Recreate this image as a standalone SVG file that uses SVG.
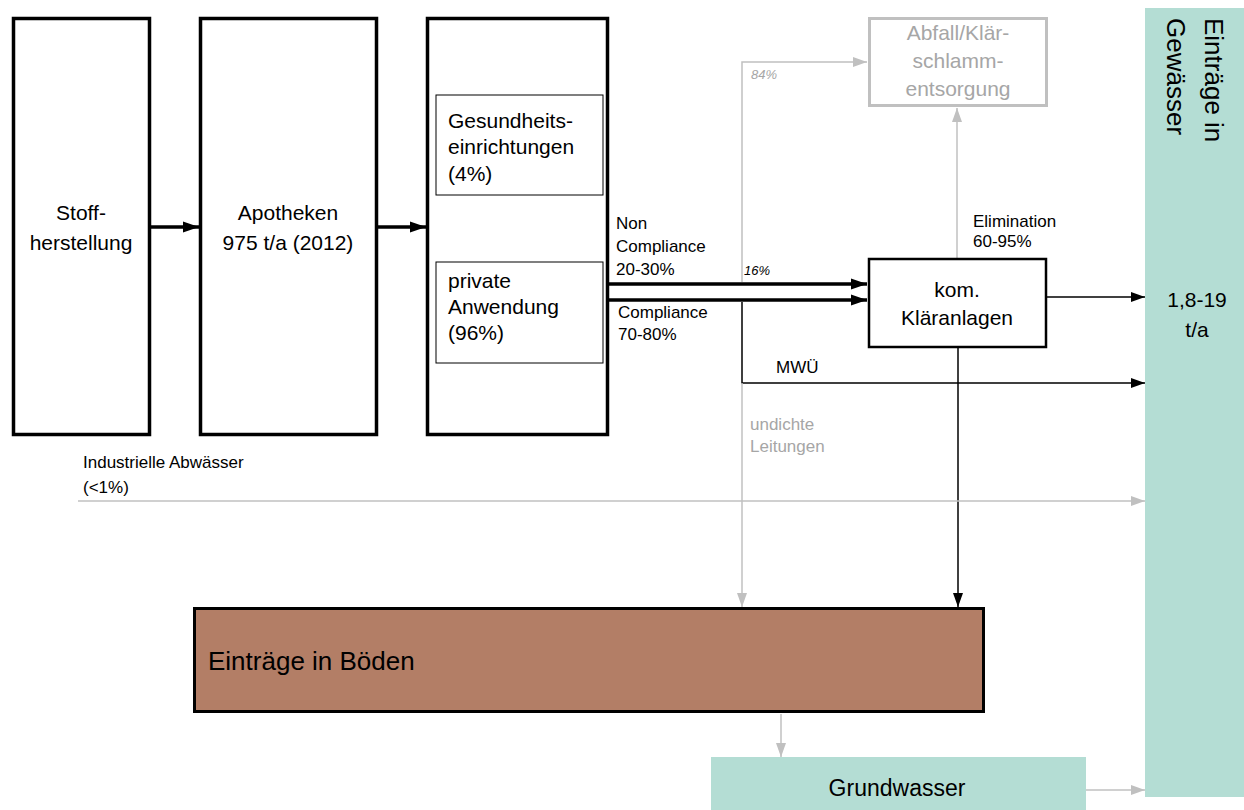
<svg xmlns="http://www.w3.org/2000/svg" width="1244" height="810" viewBox="0 0 1244 810">
<defs>
<style>
text{font-family:"Liberation Sans",Arial,sans-serif;fill:#000}
.big{font-size:21px}
.lbl{font-size:17px}
.gray{fill:#a6a6a6}
.it{font-style:italic;font-size:13px}
.box{fill:#fff;stroke:#000;stroke-width:3.5}
.inner{fill:#fff;stroke:#000;stroke-width:1}
.c-black{fill:none;stroke:#000;stroke-width:1.5}
.c-gray{fill:none;stroke:#c0c0c0;stroke-width:1.5}
.c-thick{fill:none;stroke:#000;stroke-width:3.5}
</style>
<marker id="ab" markerUnits="userSpaceOnUse" markerWidth="16" markerHeight="12" refX="14" refY="6" orient="auto"><path d="M0,1 L14,6 L0,11 z" fill="#000"/></marker>
<marker id="ag" markerUnits="userSpaceOnUse" markerWidth="16" markerHeight="12" refX="14" refY="6" orient="auto"><path d="M0,1 L14,6 L0,11 z" fill="#c0c0c0"/></marker>
<marker id="abt" markerUnits="userSpaceOnUse" markerWidth="18" markerHeight="14" refX="16" refY="7" orient="auto"><path d="M0,1.5 L16,7 L0,12.5 z" fill="#000"/></marker>
</defs>

<g id="connectors">
<line x1="151" y1="227" x2="199" y2="227" class="c-thick" stroke-width="3" marker-end="url(#abt)"/>
<line x1="378" y1="227" x2="426" y2="227" class="c-thick" stroke-width="3" marker-end="url(#abt)"/>
<line x1="609" y1="284" x2="867" y2="284" class="c-thick" marker-end="url(#abt)"/>
<line x1="609" y1="300" x2="867" y2="300" class="c-thick" marker-end="url(#abt)"/>
<path d="M742 282 V62 H867" class="c-gray" marker-end="url(#ag)"/>
<path d="M742 302 V383 H1145" class="c-black" stroke="#333" marker-end="url(#ab)"/>
<path d="M742 383 V607" class="c-gray" marker-end="url(#ag)"/>
<path d="M958 348 V607" class="c-black" marker-end="url(#ab)"/>
<path d="M957 258 V108" class="c-gray" marker-end="url(#ag)"/>
<path d="M1047 297 H1145" class="c-black" stroke-width="2.5" marker-end="url(#ab)"/>
<path d="M78 501 H1145" class="c-gray" marker-end="url(#ag)"/>
<path d="M781 714 V757" class="c-gray" marker-end="url(#ag)"/>
<path d="M1086 790 H1145" class="c-gray" marker-end="url(#ag)"/>
</g>

<g id="stoffherstellung">
<rect x="13.5" y="18.5" width="136" height="416" class="box"/>
<text class="big" x="81" y="220" text-anchor="middle">Stoff-</text>
<text class="big" x="81" y="250" text-anchor="middle">herstellung</text>
</g>

<g id="apotheken">
<rect x="200.5" y="18.5" width="176" height="416" class="box"/>
<text class="big" x="288" y="220" text-anchor="middle">Apotheken</text>
<text class="big" x="288" y="250" text-anchor="middle">975 t/a (2012)</text>
</g>

<g id="anwendung">
<rect x="427.5" y="18.5" width="180" height="416" class="box"/>
</g>

<g id="gesundheit">
<rect x="436" y="95" width="167" height="100" class="inner"/>
<text class="big" x="448" y="128">Gesundheits-</text>
<text class="big" x="448" y="154">einrichtungen</text>
<text class="big" x="448" y="181">(4%)</text>
</g>

<g id="privat">
<rect x="436" y="262" width="167" height="101" class="inner"/>
<text class="big" x="448" y="288">private</text>
<text class="big" x="448" y="314">Anwendung</text>
<text class="big" x="448" y="340">(96%)</text>
</g>

<g id="abfall">
<rect x="869.5" y="18.5" width="177" height="87" fill="#fff" stroke="#c0c0c0" stroke-width="3"/>
<text class="big gray" x="958" y="40" text-anchor="middle">Abfall/Klär-</text>
<text class="big gray" x="958" y="68" text-anchor="middle">schlamm-</text>
<text class="big gray" x="958" y="96" text-anchor="middle">entsorgung</text>
</g>

<g id="klaeranlagen">
<rect x="869" y="259" width="177" height="88" fill="#fff" stroke="#000" stroke-width="2.5"/>
<text class="big" x="957" y="297" text-anchor="middle">kom.</text>
<text class="big" x="957" y="325" text-anchor="middle">Kläranlagen</text>
</g>

<g id="gewaesser">
<rect x="1145" y="8" width="99" height="789" fill="#b4ddd4"/>
<text font-size="26" transform="translate(1205,18) rotate(90)">Einträge in</text>
<text font-size="26" transform="translate(1167,18) rotate(90)">Gewässer</text>
<text class="big" x="1197" y="307" text-anchor="middle">1,8-19</text>
<text class="big" x="1197" y="337" text-anchor="middle">t/a</text>
</g>

<g id="boeden">
<rect x="194.5" y="608.5" width="789" height="103" fill="#b37e66" stroke="#000" stroke-width="3"/>
<text font-size="26" x="208" y="670">Einträge in Böden</text>
</g>

<g id="grundwasser">
<rect x="711" y="757" width="375" height="53" fill="#b4ddd4"/>
<text font-size="23" x="897" y="796" text-anchor="middle">Grundwasser</text>
</g>

<g id="labels">
<text class="lbl" x="616" y="229">Non</text>
<text class="lbl" x="616" y="252">Compliance</text>
<text class="lbl" x="616" y="275">20-30%</text>
<text class="lbl" x="618" y="318">Compliance</text>
<text class="lbl" x="618" y="340">70-80%</text>
<text class="it" x="744" y="275">16%</text>
<text class="it gray" x="751" y="79">84%</text>
<text class="lbl" x="973" y="227">Elimination</text>
<text class="lbl" x="973" y="247">60-95%</text>
<text class="lbl" x="776" y="373">MWÜ</text>
<text class="lbl gray" x="750" y="430">undichte</text>
<text class="lbl gray" x="750" y="452">Leitungen</text>
<text class="lbl" x="83" y="468">Industrielle Abwässer</text>
<text class="lbl" x="83" y="493">(&lt;1%)</text>
</g>
</svg>
